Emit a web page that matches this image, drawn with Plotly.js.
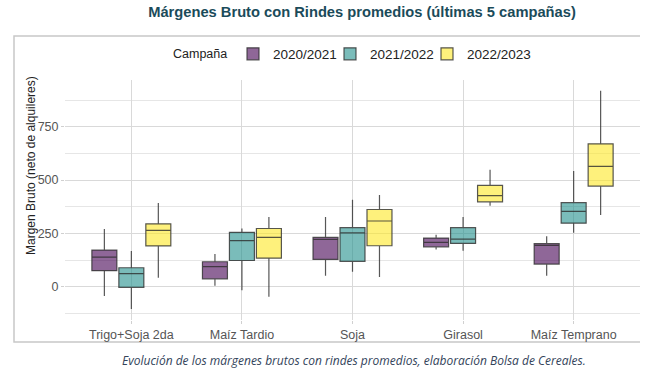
<!DOCTYPE html>
<html>
<head>
<meta charset="utf-8">
<script src="https://cdn.plot.ly/plotly-3.0.1.min.js"></script>
<style>html,body{margin:0;padding:0;background:#fff;}#chart{width:648px;height:385px;}</style>
</head>
<body>
<div id="chart"></div>
<script>
const cultivos = ["Trigo+Soja 2da", "Maíz Tardio", "Soja", "Girasol", "Maíz Temprano"];
const campanas = ["2020/2021", "2021/2022", "2022/2023"];

// 2020/2021
const low_2021 = [-44, 5, 52, 175, 52];
const q1_2021  = [75, 37, 128, 187, 106];
const med_2021 = [139, 94, 222, 208, 194];
const q3_2021  = [172, 117, 231, 228, 202];
const up_2021  = [270, 153, 327, 244, 237];

// 2021/2022
const low_2122 = [-105, -16, 70, 169, 253];
const q1_2122  = [-3, 123, 119, 203, 298];
const med_2122 = [61, 216, 252, 223, 353];
const q3_2122  = [89, 255, 277, 277, 394];
const up_2122  = [167, 273, 408, 327, 542];

// 2022/2023
const low_2223 = [42, -47, 45, 380, 336];
const q1_2223  = [191, 134, 192, 398, 472];
const med_2223 = [264, 231, 308, 427, 564];
const q3_2223  = [295, 273, 362, 475, 670];
const up_2223  = [392, 327, 430, 548, 919];

const fills = ["rgba(68,1,84,0.6)", "rgba(33,144,140,0.6)", "rgba(253,231,37,0.6)"];
const stats = [
  [low_2021, q1_2021, med_2021, q3_2021, up_2021],
  [low_2122, q1_2122, med_2122, q3_2122, up_2122],
  [low_2223, q1_2223, med_2223, q3_2223, up_2223]
];

const traces = campanas.map((c, i) => ({
  type: "box",
  name: c,
  x: cultivos,
  lowerfence: stats[i][0],
  q1: stats[i][1],
  median: stats[i][2],
  q3: stats[i][3],
  upperfence: stats[i][4],
  fillcolor: fills[i],
  line: {color: "rgba(45,45,45,0.8)", width: 1.2},
  whiskerwidth: 0,
  boxpoints: false,
  hoverinfo: "skip"
}));
// empty spacer entry so the last legend label is not clipped
traces.push({
  type: "scatter", mode: "markers", x: [null], y: [null],
  name: " ",
  marker: {size: 0, color: "rgba(0,0,0,0)", line: {width: 0, color: "rgba(0,0,0,0)"}},
  showlegend: true, hoverinfo: "skip"
});

const W = 575, H = 240, L = 65, T = 80;
const px = v => (v - L) / W;
const py = v => (T + H - v) / H;

const layout = {
  width: 648, height: 385,
  margin: {l: L, r: 8, t: T, b: 65, autoexpand: false},
  paper_bgcolor: "#ffffff",
  plot_bgcolor: "#ffffff",
  font: {family: "Liberation Sans, Arial, sans-serif", color: "#4d4d4d", size: 12},
  title: {
    text: "<b>Márgenes Bruto con Rindes promedios (últimas 5 campañas)</b>",
    font: {family: "Liberation Sans, Arial, sans-serif", size: 14.7, color: "#1b4b5a"},
    x: 362 / 648, xanchor: "center", xref: "container",
    y: 1 - 12 / 385, yanchor: "middle", yref: "container"
  },
  boxmode: "group",
  boxgap: 0.268,
  boxgroupgap: 0.074,
  showlegend: true,
  legend: {
    orientation: "h",
    x: px(233), xanchor: "left",
    y: py(54), yanchor: "middle",
    font: {size: 13.5, color: "#222"},
    entrywidth: 52, entrywidthmode: "pixels",
    tracegroupgap: 0
  },
  xaxis: {
    type: "category",
    range: [-0.6, 4.6],
    showgrid: true, gridcolor: "#d9d9d9", gridwidth: 1,
    zeroline: false, showline: false,
    ticks: "outside", ticklen: 3, tickcolor: "#d0d0d0",
    tickfont: {size: 12.5, color: "#555"},
    fixedrange: true
  },
  yaxis: {
    range: [-156, 969],
    tick0: 0, dtick: 250,
    showgrid: true, gridcolor: "#d9d9d9", gridwidth: 1,
    minor: {dtick: 125, tick0: 0, showgrid: true, gridcolor: "#e6e6e6", gridwidth: 1},
    zeroline: false, showline: false,
    ticks: "outside", ticklen: 3, tickcolor: "#d0d0d0",
    tickfont: {size: 12.5, color: "#555"},
    fixedrange: true
  },
  shapes: [{
    type: "path", xref: "paper", yref: "paper",
    path: `M ${px(640)} ${py(36)} L ${px(14)} ${py(36)} L ${px(14)} ${py(342)} L ${px(640)} ${py(342)}`,
    line: {color: "#c8c8c8", width: 1.5},
    layer: "below"
  }],
  annotations: [{
    text: "<i>Evolución de los márgenes brutos con rindes promedios, elaboración Bolsa de Cereales.</i>",
    xref: "paper", yref: "paper",
    x: px(354), xanchor: "center",
    y: py(360), yanchor: "middle",
    showarrow: false,
    font: {family: "Open Sans, sans-serif", size: 12, color: "#33435a"}
  }, {
    text: "Margen Bruto (neto de alquileres)",
    xref: "paper", yref: "paper",
    x: px(31), xanchor: "center",
    y: py(166), yanchor: "middle",
    textangle: -90,
    showarrow: false,
    font: {size: 12, color: "#222"}
  }, {
    text: "Campaña",
    xref: "paper", yref: "paper",
    x: px(200), xanchor: "center",
    y: py(54), yanchor: "middle",
    showarrow: false,
    font: {size: 12.5, color: "#222"}
  }]
};

Plotly.newPlot("chart", traces, layout, {displayModeBar: false, staticPlot: true});
</script>
</body>
</html>
